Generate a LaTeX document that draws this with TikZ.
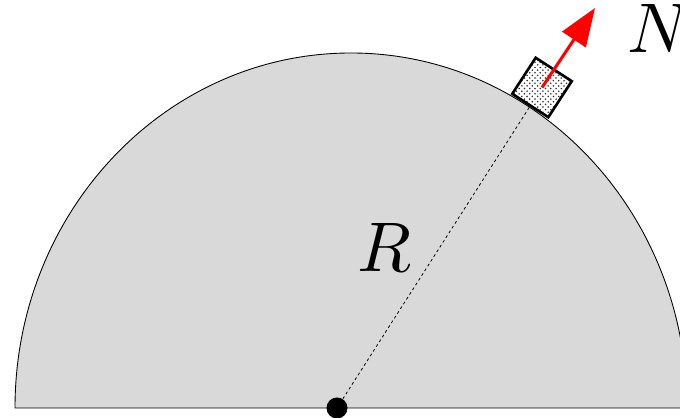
\documentclass[tikz,border=0pt]{standalone}
\usepackage{amsmath, amssymb}
\usepackage{xcolor}
\usetikzlibrary{patterns, arrows.meta}

\tikzset{
  blockbox/.style={draw=black, line width=1.5pt, minimum size=0.86cm,
    inner sep=0pt, preaction={fill=white},
    pattern=crosshatch dots, pattern color=black!80},
  biglabel/.style={inner sep=0pt, scale=4}
}

\begin{document}
\begin{tikzpicture}[x=0.02cm, y=0.02cm]
\useasboundingbox (0,0) rectangle (680,418);
\clip (0,0) rectangle (680,418);
% the dome
\draw[fill=gray!30, line width=0.5pt]
  (15,10) arc[start angle=180, end angle=0, x radius=336, y radius=355] -- cycle;
\node[circle, fill=black, inner sep=0pt, minimum size=0.42cm] (pivot) at (337,10) {};
\node[blockbox, rotate=-33] (blk) at (542,330.5) {};
\draw[dashed, dash pattern=on 1.6pt off 1.6pt, line width=0.45pt] (pivot) -- (blk);
\coordinate (ntip) at (595,410);
\draw[red, line width=1.7pt, -{Triangle[length=0.76cm, width=0.56cm]}] (blk.center) -- (ntip);
\node[biglabel, anchor=base west] (rlab) at (356,146) {$R$};
\node[biglabel, anchor=base west] (nlab) at (626,365) {$N$};
\end{tikzpicture}
\end{document}
